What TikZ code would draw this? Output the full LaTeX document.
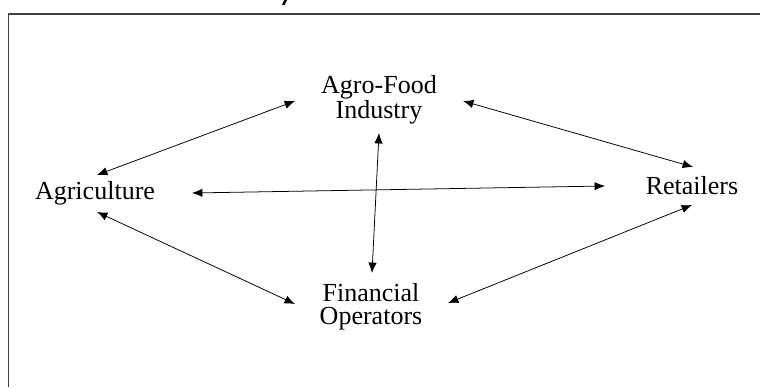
\documentclass[tikz,border=0pt]{standalone}
\usepackage{fontspec}
\setmainfont{Liberation Serif}
\usetikzlibrary{arrows.meta,calc}

\begin{document}
\begin{tikzpicture}[x=0.025cm,y=-0.025cm,
	actorbox/.style={align=center,inner sep=0pt,font=\fontsize{18.5}{16.5}\selectfont},
	link/.style={line width=0.55pt,{Latex[length=2.6mm,width=2.1mm]}-{Latex[length=2.6mm,width=2.1mm]}}]
	\useasboundingbox (0,0) rectangle (760,387);
	% frame of the cut-out
	\draw[line width=1pt,black!75] (8.5,387) -- (8.5,14) -- (760,14);
	\fill (282,5) -- (284.6,5) -- (287,0) -- (284.2,0) -- cycle;
	% the four actors
	\node[actorbox] (agro) at (379,100) {Agro-Food\\Industry};
	\node[actorbox] (agri) at (95,193) {Agriculture};
	\node[actorbox] (retail) at (692,186) {Retailers};
	\node[actorbox] (fin) at (371,307) {Financial\\Operators};
	% links
	\draw[link] ($(agri)+(2,-18)$) -- ($(agro)+(-84,1)$);
	\draw[link] ($(agri)+(2,19)$) -- ($(fin)+(-76,-3)$);
	\draw[link] ($(agro)+(84,1)$) -- ($(retail)+(1,-19)$);
	\draw[link] ($(fin)+(77,-4)$) -- ($(retail)+(0,19)$);
	\draw[link] ($(agri)+(97,0)$) -- ($(retail)+(-87,0)$);
	\draw[link] ($(agro)+(0,33)$) -- ($(fin)+(1,-34)$);
\end{tikzpicture}
\end{document}
